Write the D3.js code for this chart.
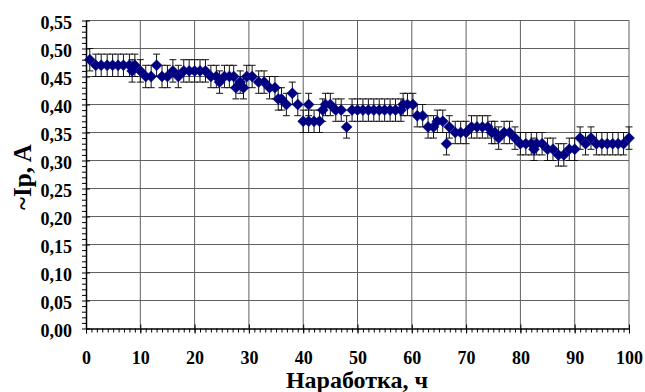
<!DOCTYPE html>
<html>
<head>
<meta charset="utf-8">
<script src="https://cdn.jsdelivr.net/npm/d3@7"></script>
<style>
  body { margin: 0; background: #fff; }
  svg text { font-family: "Liberation Serif", "Times New Roman", serif; font-weight: bold; fill: #000; }
</style>
</head>
<body>
<div id="chart"></div>
<script>
// наработка (ч) и ток ~Ip (А)
var hours = [0.7, 1.8, 2.8, 3.9, 4.9, 5.9, 6.9, 8.0, 8.5, 9.0,
  10, 11, 12, 13, 14, 15, 16, 17, 18, 19, 20, 21, 22, 23, 24, 24.6, 25.5, 26.4, 27.2, 27.6,
  28.4, 29, 29.6, 30.6, 31.8, 32.8, 33.8, 34.8, 35.4, 36, 36.9, 38, 39, 40, 41, 41, 42, 43, 43.6, 44.1,
  45, 46, 47, 48, 49, 50, 51, 52, 53, 54, 55, 56, 57, 58, 58.4, 59.2, 60.2, 61, 62, 63,
  64, 64.7, 65.7, 66.4, 66.9, 68, 69, 70, 71, 72, 73, 74, 74.7, 75.3, 76, 77, 78, 79, 80, 81,
  82, 82.5, 83, 84, 85, 86, 87, 88, 89, 90, 91, 92, 93, 94, 95, 96, 97, 98, 99, 100];
var current = [0.48, 0.47, 0.47, 0.47, 0.47, 0.47, 0.47, 0.47, 0.46, 0.47,
  0.46, 0.45, 0.45, 0.47, 0.45, 0.45, 0.46, 0.45, 0.46, 0.46, 0.46, 0.46, 0.46, 0.45, 0.45, 0.44, 0.45, 0.45, 0.45, 0.43,
  0.44, 0.43, 0.45, 0.45, 0.44, 0.44, 0.43, 0.43, 0.41, 0.41, 0.40, 0.42, 0.40, 0.37, 0.40, 0.37, 0.37, 0.37, 0.39, 0.40,
  0.40, 0.39, 0.39, 0.36, 0.39, 0.39, 0.39, 0.39, 0.39, 0.39, 0.39, 0.39, 0.39, 0.39, 0.40, 0.40, 0.40, 0.38, 0.38, 0.36,
  0.36, 0.37, 0.37, 0.33, 0.36, 0.35, 0.35, 0.35, 0.36, 0.36, 0.36, 0.36, 0.35, 0.35, 0.34, 0.35, 0.35, 0.34, 0.33, 0.33,
  0.33, 0.32, 0.33, 0.33, 0.32, 0.32, 0.31, 0.31, 0.32, 0.32, 0.34, 0.33, 0.34, 0.33, 0.33, 0.33, 0.33, 0.33, 0.33, 0.34];
var errBar = 0.02;

var xTicks = [0, 10, 20, 30, 40, 50, 60, 70, 80, 90, 100];
var yTicks = [0, 0.05, 0.10, 0.15, 0.20, 0.25, 0.30, 0.35, 0.40, 0.45, 0.50, 0.55];
var xTitle = "Наработка, ч";
var yTitle = "~Ip, A";

var width = 645, height = 392;
var pLeft = 86, pRight = 629, pTop = 20.5, pBottom = 328.5;

var svg = d3.select('#chart').append('svg')
    .attr('width', width)
    .attr('height', height);

var x = d3.scaleLinear().domain([0, 100]).range([pLeft, pRight]);
var y = d3.scaleLinear().domain([0, 0.55]).range([pBottom, pTop]);

// сетка
svg.append('g').selectAll('line')
  .data(xTicks.slice(1)).enter().append('line')
    .attr('x1', function(d) { return x(d); })
    .attr('x2', function(d) { return x(d); })
    .attr('y1', pTop).attr('y2', pBottom)
    .style('stroke', '#606060').style('stroke-width', 1);
svg.append('g').selectAll('line')
  .data(yTicks.slice(1)).enter().append('line')
    .attr('x1', pLeft).attr('x2', pRight)
    .attr('y1', function(d) { return y(d); })
    .attr('y2', function(d) { return y(d); })
    .style('stroke', '#606060').style('stroke-width', 1);

// оси: большие деления крест-накрест, малые наружу
var fmt = function(d) { return d3.format('.2f')(d).replace('.', ','); };

var yMinor = d3.range(0, 56).map(function(i) { return i / 100; });
var xMinor = d3.range(0, 101);

var yMinorG = svg.append('g').attr('transform', 'translate(' + pLeft + ',0)')
  .call(d3.axisLeft(y).tickValues(yMinor).tickSize(4).tickFormat(''));
yMinorG.select('.domain').remove();
var yMajor = svg.append('g').attr('transform', 'translate(' + pLeft + ',0)')
  .call(d3.axisLeft(y).tickValues(yTicks).tickSizeInner(5).tickSizeOuter(0).tickPadding(9).tickFormat(fmt));
yMajor.selectAll('.tick line').attr('x2', 4);
yMajor.selectAll('text').style('font-size', '18px').attr('dy', '0.45em');

var xMinorG = svg.append('g').attr('transform', 'translate(0,' + pBottom + ')')
  .call(d3.axisBottom(x).tickValues(xMinor).tickSize(4).tickFormat(''));
xMinorG.select('.domain').remove();
var xMajor = svg.append('g').attr('transform', 'translate(0,' + pBottom + ')')
  .call(d3.axisBottom(x).tickValues(xTicks).tickSizeInner(5).tickSizeOuter(0).tickPadding(18));
xMajor.selectAll('.tick line').attr('y1', -4);
xMajor.selectAll('text').style('font-size', '18px');

svg.selectAll('.domain').style('stroke', '#000').style('stroke-width', 1.5);
svg.selectAll('.tick line').style('stroke', '#000');

// погрешности
var pts = hours.map(function(h, i) { return { h: h, v: current[i] }; });
var eb = svg.append('g').style('stroke', '#111').style('stroke-width', 1);
eb.selectAll('line.v').data(pts).enter().append('line').attr('class', 'v')
    .attr('x1', function(d) { return x(d.h); })
    .attr('x2', function(d) { return x(d.h); })
    .attr('y1', function(d) { return y(d.v + errBar); })
    .attr('y2', function(d) { return y(d.v - errBar); });
eb.selectAll('line.t').data(pts).enter().append('line').attr('class', 't')
    .attr('x1', function(d) { return x(d.h) - 3.5; })
    .attr('x2', function(d) { return x(d.h) + 3.5; })
    .attr('y1', function(d) { return y(d.v + errBar); })
    .attr('y2', function(d) { return y(d.v + errBar); });
eb.selectAll('line.b').data(pts).enter().append('line').attr('class', 'b')
    .attr('x1', function(d) { return x(d.h) - 3.5; })
    .attr('x2', function(d) { return x(d.h) + 3.5; })
    .attr('y1', function(d) { return y(d.v - errBar); })
    .attr('y2', function(d) { return y(d.v - errBar); });

// ромбы
svg.append('g').selectAll('path').data(pts).enter().append('path')
    .attr('d', 'M0,-5.5L5.5,0L0,5.5L-5.5,0Z')
    .attr('transform', function(d) { return 'translate(' + x(d.h) + ',' + y(d.v) + ')'; })
    .style('fill', '#000080')
    .style('stroke', '#000080').style('stroke-width', 0.5);

// подписи осей
svg.append('text')
    .attr('x', 357).attr('y', 388)
    .attr('text-anchor', 'middle')
    .style('font-size', '24px')
    .text(xTitle);
svg.append('text')
    .attr('transform', 'translate(31,177) rotate(-90)')
    .attr('text-anchor', 'middle')
    .style('font-size', '25px')
    .text(yTitle);
</script>
</body>
</html>
